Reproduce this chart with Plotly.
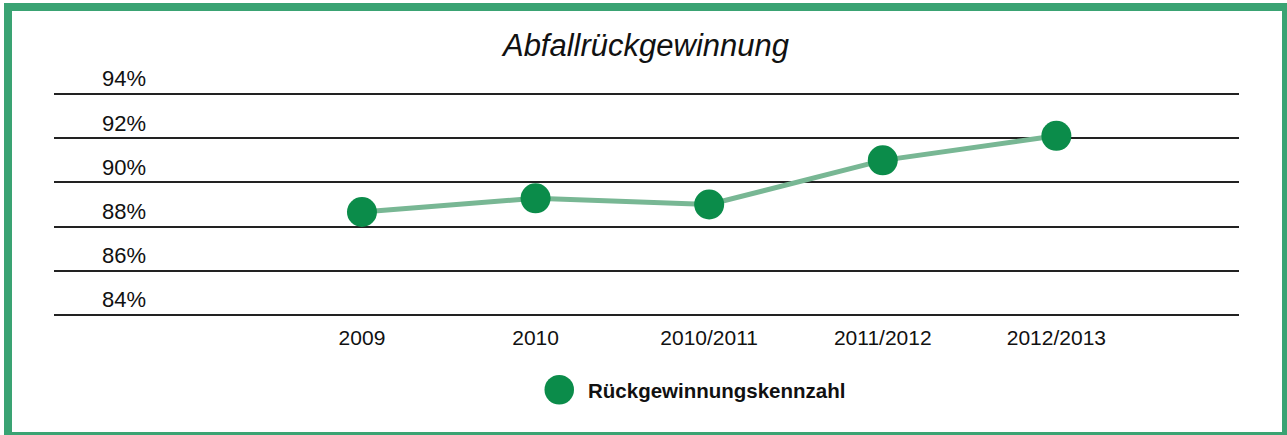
import plotly.graph_objects as go

# Waste recovery rate per reporting period
periods = ["2009", "2010", "2010/2011", "2011/2012", "2012/2013"]
recovery_rate = [88.66, 89.28, 89.0, 91.0, 92.11]
y_ticks = [84, 86, 88, 90, 92, 94]
y_tick_labels = ["84%", "86%", "88%", "90%", "92%", "94%"]
series_name = "Rückgewinnungskennzahl"
chart_title = "Abfallrückgewinnung"

W, H = 1287, 435
ML, MR, MT, MB = 54, 48, 66, 119
PW, PH = W - ML - MR, H - MT - MB

FONT = "Liberation Sans, Arial, Helvetica, sans-serif"
BORDER = "#3aa373"
MARKER = "#0b8c4a"
LINE = "#78b794"


def px_x(px):
    return (px - ML) / PW


def px_y(py):
    return (H - MB - py) / PH


fig = go.Figure()
fig.add_trace(go.Scatter(
    x=periods,
    y=recovery_rate,
    mode="lines+markers",
    name=series_name,
    line=dict(color=LINE, width=5),
    marker=dict(color=MARKER, size=30),
    showlegend=False,
))

shapes = [
    # outer frame
    dict(type="rect", xref="paper", yref="paper",
         x0=px_x(8), x1=px_x(1286), y0=px_y(436), y1=px_y(7),
         line=dict(color=BORDER, width=8), fillcolor="rgba(0,0,0,0)", layer="below"),
    # legend swatch
    dict(type="circle", xref="paper", yref="paper",
         x0=px_x(544.5), x1=px_x(574), y0=px_y(404.5), y1=px_y(375),
         line=dict(color=MARKER, width=0), fillcolor=MARKER),
]

annotations = [
    dict(text="<b>" + series_name + "</b>", xref="paper", yref="paper",
         x=px_x(586), y=px_y(390.5), xanchor="left", yanchor="middle",
         showarrow=False, font=dict(family=FONT, size=20.5, color="#111111")),
]

# 22.08 px per percentage point; extra headroom keeps the 94% label inside
y_top = 83.95 + PH / 22.08

fig.update_layout(
    width=W, height=H,
    margin=dict(l=ML, r=MR, t=MT, b=MB),
    paper_bgcolor="white", plot_bgcolor="white",
    title=dict(text="<i>" + chart_title + "</i>", x=646 / W, xanchor="center",
               y=(H - 45) / H, yanchor="middle", yref="container",
               font=dict(family=FONT, size=31, color="#111111")),
    xaxis=dict(
        type="category", range=[-1.774, 5.052], showgrid=False, zeroline=False,
        showline=False, ticks="", ticklabelstandoff=7,
        tickfont=dict(family=FONT, size=21, color="#111111"),
    ),
    yaxis=dict(
        range=[83.95, y_top], tickvals=y_ticks, ticktext=y_tick_labels,
        showgrid=True, gridcolor="#222222", gridwidth=1.5, zeroline=False,
        showline=False, ticks="", ticklabelposition="inside top",
        ticklabelstandoff=45,
        tickfont=dict(family=FONT, size=22, color="#111111"),
    ),
    shapes=shapes,
    annotations=annotations,
)

fig.write_html("out.html")
